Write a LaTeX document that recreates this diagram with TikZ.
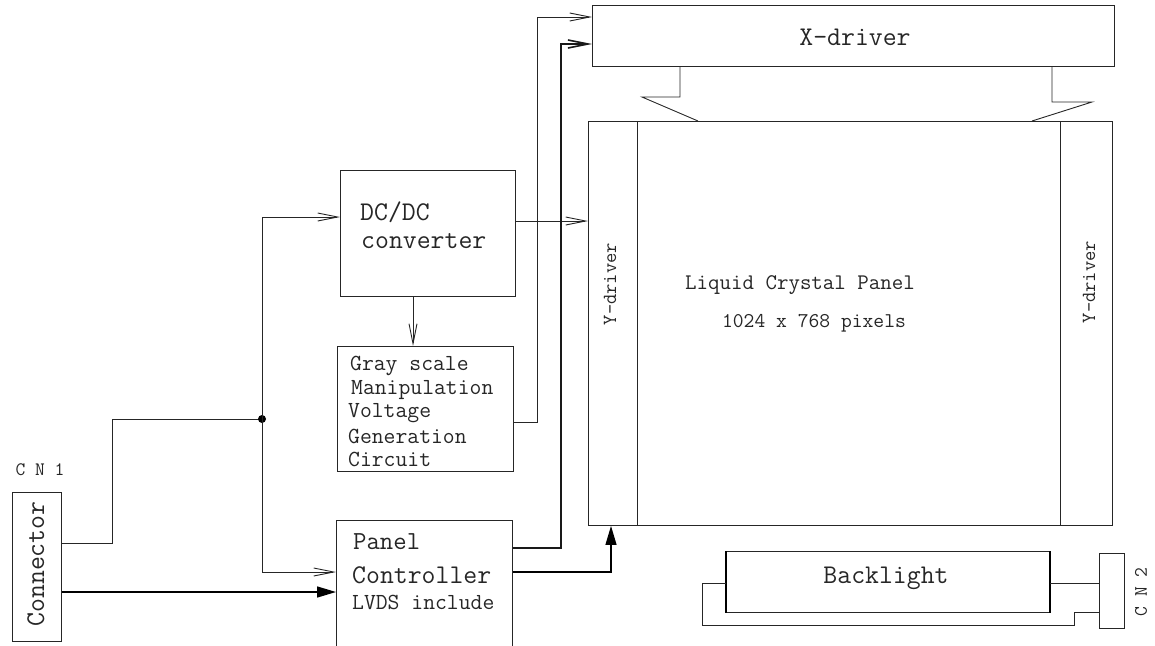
\documentclass[tikz,border=0pt]{standalone}
\usepackage{fontspec}
\usetikzlibrary{arrows.meta,calc}
\tikzset{
  ln/.style={draw=black!85, line width=0.9pt},
  thk/.style={draw=black!90, line width=1.6pt},
  box/.style={ln, rectangle, inner sep=0pt, anchor=north west},
  oarr/.style={-{Straight Barb[length=20pt,width=8pt]}},
  farr/.style={-{Triangle[length=19pt,width=11pt]}, line width=1.5pt, draw=black},
  lbl/.style={font=\ttfamily, inner sep=0pt, text=black!85},
}
\newcommand{\fs}[1]{\fontsize{#1}{#1}\selectfont}
\begin{document}
\begin{tikzpicture}[x=1pt,y=-1pt]
\useasboundingbox (0,0) rectangle (1155,645);
% boxes
\node[box,minimum width=49pt,minimum height=149pt] (conn) at (12,492) {};
\node[box,minimum width=175pt,minimum height=126pt] (dc) at (340,170) {};
\node[box,minimum width=176pt,minimum height=125pt] (gray) at (337,346) {};
\node[box,minimum width=176pt,minimum height=130pt] (pc) at (336,520) {};
\node[box,minimum width=522pt,minimum height=61pt] (xd) at (592,5) {};
\node[box,minimum width=524pt,minimum height=404pt] (lcd) at (588,121) {};
\node[box,minimum width=49pt,minimum height=404pt] (yl) at (588,121) {};
\node[box,minimum width=52pt,minimum height=404pt] (yr) at (1060,121) {};
\node[box,minimum width=323pt,minimum height=61pt] (bl) at (726,551) {};
\node[box,minimum width=25pt,minimum height=75pt] (cn2) at (1099,553) {};
\draw[line width=2.2pt] (bl.north west) -- (bl.south west);
\draw[line width=2.2pt] (bl.north east) -- (bl.south east);
% texts
\node[lbl] (tcn1) at (40,470) {\fs{19}C N 1};
\node[lbl,rotate=90] (tconn) at (36,564) {\fs{27}Connector};
\node[lbl,anchor=west] (tdc1) at (360,212) {\fs{27}DC/DC};
\node[lbl,anchor=west] (tdc2) at (361,241) {\fs{27}converter};
\node[lbl,anchor=west] (tg1) at (350,366) {\fs{23}Gray scale};
\node[lbl,anchor=west] (tg2) at (351,390) {\fs{23}Manipulation};
\node[lbl,anchor=west] (tg3) at (348,413) {\fs{23}Voltage};
\node[lbl,anchor=west] (tg4) at (348,436) {\fs{23}Generation};
\node[lbl,anchor=west] (tg5) at (348,459) {\fs{23}Circuit};
\node[lbl,anchor=west] (tp1) at (353,542) {\fs{26}Panel};
\node[lbl,anchor=west] (tp2) at (352,575) {\fs{27}Controller};
\node[lbl,anchor=west] (tp3) at (352,602) {\fs{23}LVDS include};
\node[lbl] (txd) at (855,37) {\fs{27}X-driver};
\node[lbl,rotate=90] (tyl) at (610,284) {\fs{20}Y-driver};
\node[lbl,rotate=90] (tyr) at (1089,282) {\fs{20}Y-driver};
\node[lbl] (tlc1) at (800,285) {\fs{22.3}Liquid Crystal Panel};
\node[lbl] (tlc2) at (814,323) {\fs{21}1024 x 768 pixels};
\node[lbl] (tbl) at (886,578) {\fs{27}Backlight};
\node[lbl,rotate=90] (tcn2) at (1141,592) {\fs{19}C N 2};
% connectors
\coordinate (j) at (262,419);
\draw[ln] (conn.east |- 0,543) -| (112,419) -- (j);
\fill[black] (j) circle (4pt);
\draw[ln,oarr] (j) |- (dc.west |- 0,217);
\draw[ln,oarr] (j) |- (pc.west |- 0,572);
\draw[farr] (conn.east |- 0,592) -- (pc.west |- 0,592);
\draw[ln,oarr] (dc.east |- 0,221) -- (lcd.west |- 0,221);
\draw[ln,oarr] (dc.south -| 413,0) -- (gray.north -| 413,0);
\draw[ln,oarr] (gray.east |- 0,422) -| (537,17) -- (xd.west |- 0,17);
\draw[thk,oarr] (pc.east |- 0,548) -| (561,44) -- (xd.west |- 0,44);
\draw[farr,line width=1.2pt] (pc.east |- 0,572) -| (yl.south -| 611,0);
\draw[ln] (xd.south -| 680,0) -- (680,97) -- (642,97) -- (lcd.north -| 698,0);
\draw[ln] (xd.south -| 1052,0) -- (1052,102) -- (1092,102) -- (lcd.north -| 1032,0);
\draw[ln] (bl.east |- 0,583) -- (cn2.west |- 0,583);
\draw[ln] (bl.west |- 0,583) -- (702,583) |- (1074,625) |- (cn2.west |- 0,612);
\end{tikzpicture}
\end{document}
